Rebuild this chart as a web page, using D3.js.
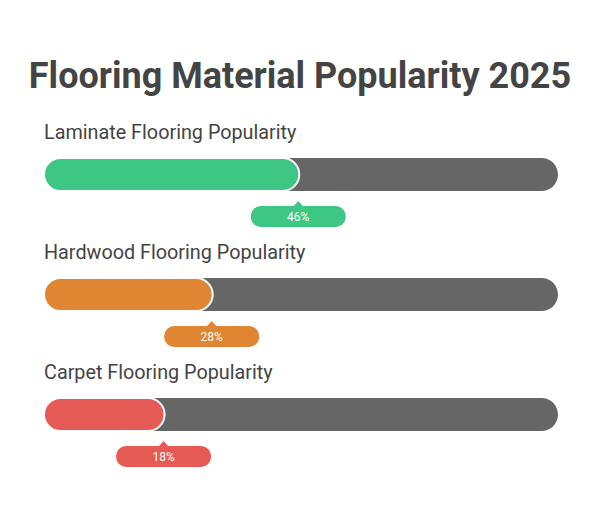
<!DOCTYPE html>
<html><head><meta charset="utf-8">
<script src="https://cdn.jsdelivr.net/npm/d3@7"></script>
<style>body{margin:0;background:#fff;font-family:Roboto,sans-serif}</style>
</head><body>
<script>
const categories = ["Laminate Flooring Popularity","Hardwood Flooring Popularity","Carpet Flooring Popularity"];
const values = [46, 28, 18];
const colors = ["#3ec684","#e08532","#e65a55"];
const title = "Flooring Material Popularity 2025";

const W = 600, H = 517;
const svg = d3.select("body").append("svg").attr("width", W).attr("height", H);
svg.append("text").attr("x", 300).attr("y", 88).attr("text-anchor","middle")
  .attr("font-size", 36).attr("font-weight", 700).attr("fill", "#444").text(title);

const x0 = 44, x1 = 558, bh = 33, r = bh/2;
const y = d3.scaleBand().domain(categories).range([120, 480]);
const xs = d3.scaleLinear().domain([0, 100]).range([x0 + bh, x1]);

const g = svg.selectAll("g.row").data(categories).join("g")
  .attr("transform", d => `translate(0,${y(d)})`);
g.append("text").attr("x", x0).attr("y", 19).attr("font-size", 19.8).attr("fill", "#444").text(d => d);
g.append("rect").attr("x", x0).attr("y", 38).attr("width", x1 - x0).attr("height", bh)
  .attr("rx", r).attr("fill", "#666");
g.append("rect").attr("x", x0).attr("y", 38).attr("width", (d,i) => xs(values[i]) - x0 + 1).attr("height", bh)
  .attr("rx", r).attr("fill", (d,i) => colors[i]).attr("stroke", "#fff").attr("stroke-width", 2);
const bw = 95, bbh = 21, by = 86;
g.append("path").attr("d", (d,i) => {
    const cx = xs(values[i]);
    return `M${cx-5},${by+0.5} L${cx},${by-5} L${cx+5},${by+0.5} Z`;
  }).attr("fill", (d,i) => colors[i]);
g.append("rect").attr("x", (d,i) => xs(values[i]) - bw/2).attr("y", by).attr("width", bw).attr("height", bbh)
  .attr("rx", 10).attr("fill", (d,i) => colors[i]);
g.append("text").attr("x", (d,i) => xs(values[i])).attr("y", by + 15).attr("text-anchor","middle")
  .attr("font-size", 12).attr("fill", "#fff").text((d,i) => values[i] + "%");
</script>
</body></html>
